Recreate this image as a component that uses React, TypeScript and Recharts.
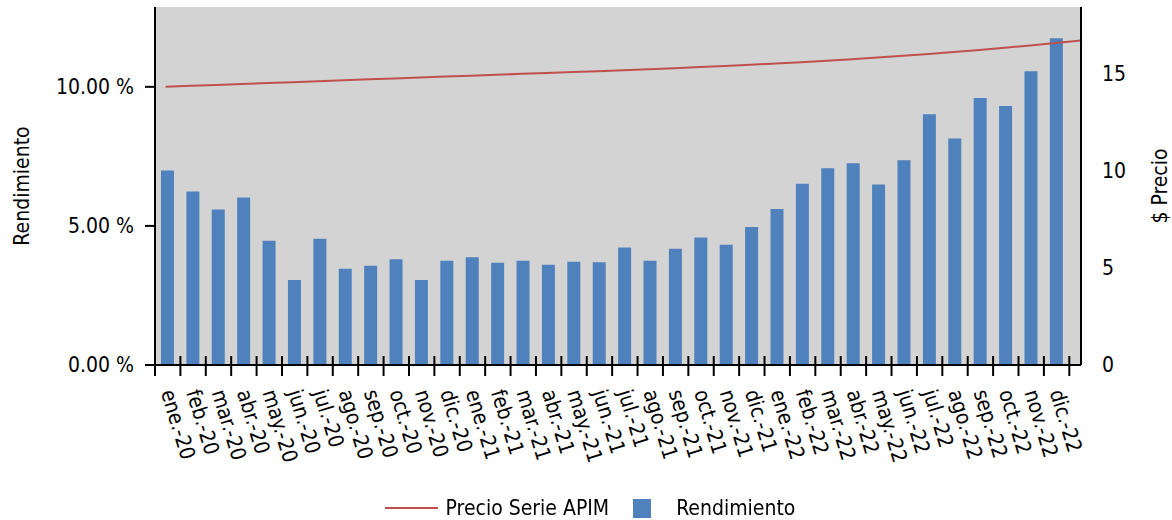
import React from "react";
import {
  ComposedChart,
  Bar,
  Line,
  XAxis,
  YAxis,
  CartesianGrid,
  Legend,
} from "recharts";

const months = [
  "ene.-20", "feb.-20", "mar.-20", "abr.-20", "may.-20", "jun.-20",
  "jul.-20", "ago.-20", "sep.-20", "oct.-20", "nov.-20", "dic.-20",
  "ene.-21", "feb.-21", "mar.-21", "abr.-21", "may.-21", "jun.-21",
  "jul.-21", "ago.-21", "sep.-21", "oct.-21", "nov.-21", "dic.-21",
  "ene.-22", "feb.-22", "mar.-22", "abr.-22", "may.-22", "jun.-22",
  "jul.-22", "ago.-22", "sep.-22", "oct.-22", "nov.-22", "dic.-22",
];

// rendimiento, in percent
const rendimiento = [
  6.99, 6.24, 5.59, 6.02, 4.47, 3.06, 4.54, 3.46, 3.57, 3.8, 3.06, 3.75,
  3.87, 3.68, 3.75, 3.6, 3.71, 3.69, 4.22, 3.75, 4.18, 4.58, 4.32, 4.96,
  5.61, 6.52, 7.07, 7.25, 6.49, 7.36, 9.01, 8.14, 9.6, 9.31, 10.56, 11.75,
];

// precio serie APIM, one reading per month step (37 readings)
const precio = [
  14.32, 14.37, 14.41, 14.46, 14.51, 14.55, 14.6, 14.65, 14.7, 14.74,
  14.79, 14.84, 14.88, 14.93, 14.98, 15.02, 15.07, 15.12, 15.17, 15.22,
  15.27, 15.33, 15.39, 15.45, 15.51, 15.58, 15.65, 15.73, 15.82, 15.91,
  16.0, 16.1, 16.21, 16.32, 16.44, 16.57, 16.7,
];

const leftTicks = [0, 5, 10];
const rightTicks = [0, 5, 10, 15];

const FONT = '"DejaVu Sans Condensed", "DejaVu Sans", sans-serif';
const FS = 21;
const BLUE = "#4F81BD";
const RED = "#C0504D";

// layout
const W = 1172;
const H = 520;
const LEFT_W = 155;
const RIGHT_W = 91;
const PAD_RIGHT = 11.7;
const HALF_BAND = (W - LEFT_W - RIGHT_W - PAD_RIGHT) / months.length / 2;

const barData = months.map((mes, i) => ({ mes, rendimiento: rendimiento[i] }));
const priceData = precio.map((p, i) => ({ m: i, precio: p }));

function MonthTick(props: any) {
  const { x, y, payload, index } = props;
  const ty = y + 25;
  return (
    <g>
      <line x1={x - HALF_BAND} x2={x - HALF_BAND} y1={y - 9} y2={y + 11} stroke="#000" strokeWidth={2} />
      {index === months.length - 1 && (
        <line x1={x + HALF_BAND} x2={x + HALF_BAND} y1={y - 9} y2={y + 11} stroke="#000" strokeWidth={2} />
      )}
      <text
        x={x}
        y={ty}
        dy="0.35em"
        textAnchor="start"
        fontSize={FS}
        fill="#000"
        transform={`rotate(73, ${x}, ${ty})`}
      >
        {payload.value}
      </text>
    </g>
  );
}

function renderLegend() {
  return (
    <div
      style={{
        display: "flex",
        justifyContent: "center",
        alignItems: "center",
        fontFamily: FONT,
        fontSize: FS,
        color: "#000",
        height: 26,
        paddingLeft: 8,
      }}
    >
      <span style={{ display: "inline-block", width: 53, height: 2, background: RED, marginRight: 8 }} />
      <span style={{ marginRight: 24 }}>Precio Serie APIM</span>
      <span style={{ display: "inline-block", width: 18, height: 19, background: BLUE, marginRight: 25 }} />
      <span>Rendimiento</span>
    </div>
  );
}

export default function App() {
  return (
    <div style={{ position: "fixed", left: 0, top: 0, width: W, height: H, fontFamily: FONT, background: "#fff" }}>
      <ComposedChart
        width={W}
        height={H}
        data={barData}
        margin={{ top: 7, right: 0, bottom: 0, left: 0 }}
        barCategoryGap="23.5%"
        style={{ fontFamily: FONT }}
      >
        <CartesianGrid fill="#D3D3D3" stroke="none" horizontal={false} vertical={false} />
        <XAxis
          dataKey="mes"
          height={155}
          interval={0}
          padding={{ left: 0, right: PAD_RIGHT }}
          tickLine={false}
          tickSize={0}
          tickMargin={0}
          axisLine={{ stroke: "#000", strokeWidth: 2 }}
          tick={<MonthTick />}
        />
        <XAxis xAxisId="p" type="number" dataKey="m" domain={[0, 36]} hide padding={{ left: 10.5, right: 0 }} />
        <YAxis
          yAxisId="left"
          width={LEFT_W}
          domain={[0, 12.87]}
          ticks={leftTicks}
          allowDataOverflow
          tickFormatter={(v: number) => `${v.toFixed(2)} %`}
          tick={{ fill: "#000", fontSize: FS }}
          tickSize={10}
          tickMargin={11}
          tickLine={{ stroke: "#000", strokeWidth: 2 }}
          axisLine={{ stroke: "#000", strokeWidth: 2 }}
          label={{
            content: (p: any) => {
              const cy = p.viewBox.y + p.viewBox.height / 2;
              return (
                <text x={22} y={cy} textAnchor="middle" dominantBaseline="central" fontSize={FS} fill="#000" transform={`rotate(-90, 22, ${cy})`}>
                  Rendimiento
                </text>
              );
            },
          }}
        />
        <YAxis
          yAxisId="right"
          orientation="right"
          width={RIGHT_W}
          domain={[0, 18.42]}
          ticks={rightTicks}
          allowDataOverflow
          tick={{ fill: "#000", fontSize: FS, textAnchor: "start" }}
          tickLine={false}
          tickSize={0}
          tickMargin={21}
          axisLine={{ stroke: "#000", strokeWidth: 2 }}
          label={{
            content: (p: any) => {
              const cy = p.viewBox.y + p.viewBox.height / 2;
              const lx = p.viewBox.x + 79;
              return (
                <text x={lx} y={cy} textAnchor="middle" dominantBaseline="central" fontSize={FS} fill="#000" transform={`rotate(-90, ${lx}, ${cy})`}>
                  $ Precio
                </text>
              );
            },
          }}
        />
        <Bar yAxisId="left" dataKey="rendimiento" name="Rendimiento" fill={BLUE} isAnimationActive={false} legendType="square" />
        <Line
          data={priceData}
          xAxisId="p"
          yAxisId="right"
          dataKey="precio"
          name="Precio Serie APIM"
          stroke={RED}
          strokeWidth={2}
          dot={false}
          activeDot={false}
          isAnimationActive={false}
          legendType="line"
        />
        <Legend
          verticalAlign="middle"
          layout="horizontal"
          align="center"
          wrapperStyle={{ top: 495, left: 0, width: W }}
          content={renderLegend}
        />
      </ComposedChart>
    </div>
  );
}
